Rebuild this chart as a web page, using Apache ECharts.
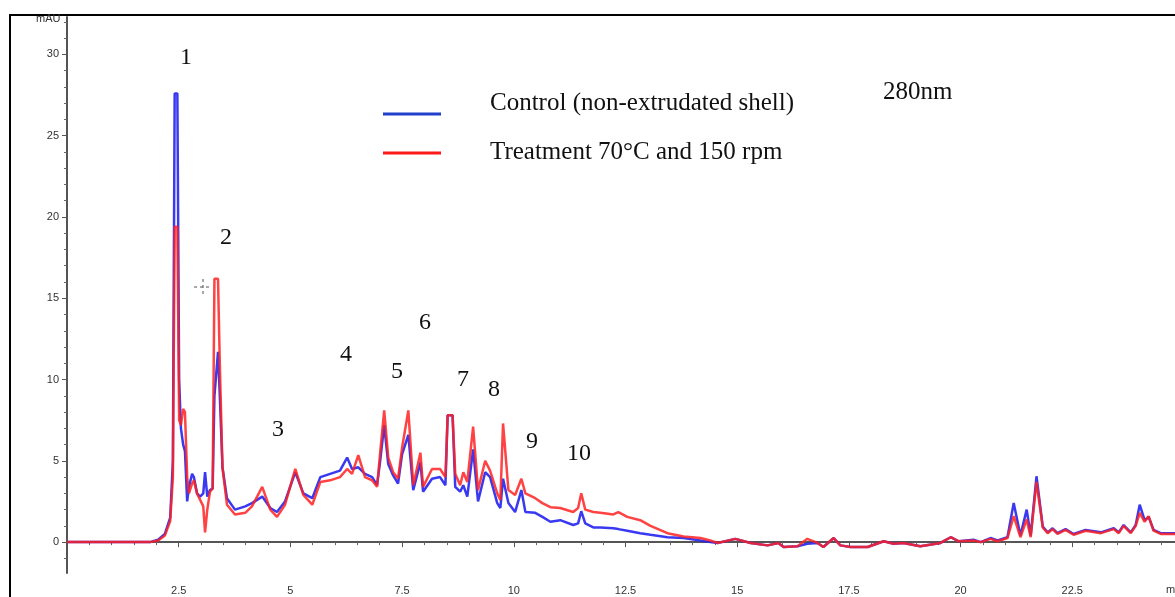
<!DOCTYPE html>
<html>
<head>
<meta charset="utf-8">
<title>Chromatogram 280nm</title>
<script src="https://cdn.jsdelivr.net/npm/echarts@6/dist/echarts.min.js"></script>
<style>
  html, body { margin: 0; padding: 0; background: #fff; }
  #chart { width: 1175px; height: 597px; }
</style>
</head>
<body>
<div id="chart"></div>
<script>
// retention time (min)
const timeMin = [
    0.00, 1.19, 1.86, 2.04, 2.19, 2.31, 2.37, 2.41, 2.47, 2.51,
    2.55, 2.60, 2.64, 2.69, 2.73, 2.80, 2.84, 2.91, 2.98, 3.05,
    3.09, 3.14, 3.20, 3.26, 3.30, 3.38, 3.42, 3.48, 3.58, 3.76,
    3.99, 4.14, 4.37, 4.55, 4.70, 4.88, 5.11, 5.29, 5.49, 5.67,
    5.89, 6.11, 6.27, 6.38, 6.52, 6.67, 6.83, 6.94, 7.01, 7.10,
    7.19, 7.30, 7.41, 7.50, 7.64, 7.75, 7.91, 7.97, 8.17, 8.35,
    8.47, 8.52, 8.63, 8.69, 8.80, 8.87, 8.96, 9.09, 9.20, 9.36,
    9.47, 9.63, 9.70, 9.76, 9.88, 10.03, 10.17, 10.26, 10.48, 10.64,
    10.82, 11.04, 11.33, 11.44, 11.51, 11.60, 11.78, 11.94, 12.23, 12.34,
    12.54, 12.83, 13.06, 13.44, 13.80, 14.18, 14.40, 14.56, 14.96, 15.30,
    15.68, 15.92, 16.04, 16.35, 16.57, 16.80, 16.93, 17.16, 17.31, 17.54,
    17.92, 18.28, 18.50, 18.72, 19.10, 19.55, 19.78, 19.96, 20.29, 20.45,
    20.67, 20.83, 21.05, 21.19, 21.34, 21.48, 21.57, 21.70, 21.84, 21.95,
    22.06, 22.17, 22.35, 22.53, 22.80, 23.14, 23.43, 23.54, 23.65, 23.81,
    23.92, 24.01, 24.12, 24.21, 24.32, 24.48, 24.81
];

// Control (non-extrudated shell), mAU
const controlMAU = [
    0, 0, 0, 0.15, 0.5, 1.5, 5, 27.6, 27.6, 10,
    7.0, 6.0, 5.6, 2.5, 3.4, 4.2, 4.0, 3.0, 2.8, 3.0,
    4.3, 2.8, 3.2, 3.3, 9, 11.7, 9, 4.6, 2.7, 2.0,
    2.2, 2.4, 2.8, 2.1, 1.85, 2.5, 4.3, 3.0, 2.7, 4.0,
    4.2, 4.4, 5.2, 4.5, 4.6, 4.2, 4.0, 3.5, 5.0, 7.2,
    4.8, 4.1, 3.6, 5.4, 6.6, 3.2, 4.9, 3.1, 3.9, 4.0,
    3.5, 7.8, 7.8, 3.4, 3.1, 3.5, 2.8, 5.7, 2.5, 4.3,
    4.0, 2.4, 2.1, 3.9, 2.4, 1.85, 3.2, 1.85, 1.8, 1.55,
    1.25, 1.35, 1.05, 1.15, 1.9, 1.15, 0.9, 0.9, 0.85, 0.8,
    0.7, 0.55, 0.45, 0.3, 0.25, 0.1, 0.0, -0.05, 0.2, -0.05,
    -0.2, -0.05, -0.3, -0.25, -0.1, -0.05, -0.3, 0.25, -0.2, -0.3,
    -0.3, 0.05, -0.1, -0.05, -0.25, -0.05, 0.3, 0.05, 0.15, 0.0,
    0.25, 0.1, 0.3, 2.4, 0.4, 2.0, 0.4, 4.05, 0.95, 0.6,
    0.85, 0.55, 0.8, 0.5, 0.75, 0.6, 0.85, 0.6, 1.05, 0.6,
    1.05, 2.3, 1.35, 1.55, 0.75, 0.55, 0.55
];

// Treatment 70°C and 150 rpm, mAU
const treatmentMAU = [
    0, 0, 0, 0.1, 0.4, 1.3, 4, 19.4, 19.4, 7.5,
    7.2, 8.2, 8.0, 4.0, 3.0, 3.6, 3.8, 3.0, 2.6, 2.2,
    0.6, 2.0, 3.1, 3.3, 16.2, 16.2, 11, 4.6, 2.3, 1.7,
    1.8, 2.2, 3.4, 2.0, 1.55, 2.3, 4.5, 2.9, 2.3, 3.7,
    3.8, 4.0, 4.5, 4.2, 5.35, 4.0, 3.8, 3.4, 5.5, 8.1,
    5.2, 4.3, 3.9, 5.8, 8.1, 3.5, 5.5, 3.4, 4.5, 4.5,
    4.0, 7.8, 7.8, 4.2, 3.5, 4.3, 3.7, 7.1, 3.2, 5.0,
    4.4, 3.0, 2.6, 7.3, 3.2, 2.9, 3.9, 3.0, 2.7, 2.4,
    2.15, 2.1, 1.85, 2.1, 3.0, 2.0, 1.85, 1.8, 1.7, 1.85,
    1.55, 1.35, 1.0, 0.55, 0.35, 0.25, 0.1, -0.05, 0.2, -0.05,
    -0.2, -0.05, -0.3, -0.25, 0.2, -0.05, -0.3, 0.25, -0.2, -0.3,
    -0.3, 0.05, -0.1, -0.05, -0.25, -0.05, 0.3, 0.05, 0.1, 0.0,
    0.2, 0.05, 0.25, 1.6, 0.3, 1.4, 0.3, 3.7, 0.9, 0.55,
    0.8, 0.5, 0.75, 0.45, 0.7, 0.55, 0.8, 0.55, 1.0, 0.55,
    1.0, 1.8, 1.25, 1.6, 0.7, 0.5, 0.5
];

const xTickValues = [2.5, 5, 7.5, 10, 12.5, 15, 17.5, 20, 22.5];
const xMinorValues = [0.5, 1, 1.5, 2, 3, 3.5, 4, 4.5, 5.5, 6, 6.5, 7, 8, 8.5, 9, 9.5,
    10.5, 11, 11.5, 12, 13, 13.5, 14, 14.5, 15.5, 16, 16.5, 17, 18, 18.5, 19, 19.5,
    20.5, 21, 21.5, 22, 23, 23.5, 24, 24.5];
const yTickValues = [0, 5, 10, 15, 20, 25, 30];
const yMinorValues = [-1, 1, 2, 3, 4, 6, 7, 8, 9, 11, 12, 13, 14, 16, 17, 18, 19,
    21, 22, 23, 24, 26, 27, 28, 29, 31, 32];

const seriesNames = ['Control (non-extrudated shell)', 'Treatment 70°C and 150 rpm'];
const peakLabels = ['1', '2', '3', '4', '5', '6', '7', '8', '9', '10'];

const chart = echarts.init(document.getElementById('chart'));

const tickFont = {
    fontFamily: '"Liberation Sans Narrow", "Liberation Sans", Arial, sans-serif',
    fontSize: 11,
    color: '#333'
};
const serif = '"Liberation Serif", "Times New Roman", serif';

// where the peak numbers sit on the page
const peakLabelPos = [
    [186, 58], [226, 238], [278, 430], [346, 355], [397, 372],
    [425, 323], [463, 380], [494, 390], [532, 442], [579, 454]
];

const graphics = [
    // outer frame
    { type: 'rect', shape: { x: 10, y: 15, width: 1200, height: 620 },
      style: { fill: null, stroke: '#000', lineWidth: 2 }, z: 0 },
    { type: 'text', left: 36, top: 13,
      style: { text: 'mAU', font: '11px "Liberation Sans Narrow", "Liberation Sans", sans-serif', fill: '#333' } },
    { type: 'text', left: 1166, top: 584,
      style: { text: 'min', font: '11px "Liberation Sans Narrow", "Liberation Sans", sans-serif', fill: '#333' } },
    // legend
    { type: 'line', shape: { x1: 383, y1: 114, x2: 441, y2: 114 },
      style: { stroke: '#1f3fcc', lineWidth: 3 } },
    { type: 'line', shape: { x1: 383, y1: 153, x2: 441, y2: 153 },
      style: { stroke: '#ff1a1a', lineWidth: 3 } },
    { type: 'text', x: 490, y: 103,
      style: { text: seriesNames[0], font: '25px ' + serif, fill: '#111', verticalAlign: 'middle' } },
    { type: 'text', x: 490, y: 152,
      style: { text: seriesNames[1], font: '25px ' + serif, fill: '#111', verticalAlign: 'middle' } },
    { type: 'text', x: 883, y: 92,
      style: { text: '280nm', font: '25px ' + serif, fill: '#111', verticalAlign: 'middle' } },
    // cursor cross
    { type: 'line', shape: { x1: 194, y1: 287, x2: 212, y2: 287 },
      style: { stroke: '#555', lineWidth: 1, lineDash: [3, 3] } },
    { type: 'line', shape: { x1: 203, y1: 279, x2: 203, y2: 296 },
      style: { stroke: '#555', lineWidth: 1, lineDash: [3, 3] } }
];

peakLabels.forEach((label, i) => {
    graphics.push({
        type: 'text',
        x: peakLabelPos[i][0],
        y: peakLabelPos[i][1],
        style: {
            text: label,
            font: '24px ' + serif,
            fill: '#111',
            align: 'center',
            verticalAlign: 'middle'
        }
    });
});

const option = {
    backgroundColor: '#fff',
    animation: false,
    grid: { left: 67, right: 0, top: 17, bottom: 24 },
    xAxis: [
        {
            type: 'value',
            min: 0,
            max: 24.8,
            axisLine: { show: true, lineStyle: { color: '#555', width: 2 } },
            axisTick: { show: true, customValues: xTickValues, length: 5, lineStyle: { color: '#555' } },
            axisLabel: { customValues: xTickValues, margin: 12, ...tickFont },
            splitLine: { show: false }
        },
        {
            type: 'value',
            position: 'bottom',
            min: 0,
            max: 24.8,
            axisLine: { show: false },
            axisTick: { show: true, customValues: xMinorValues, length: 3, lineStyle: { color: '#666' } },
            axisLabel: { show: false },
            splitLine: { show: false }
        }
    ],
    yAxis: [
        {
            type: 'value',
            min: -1.9,
            max: 32.3,
            axisLine: { show: true, lineStyle: { color: '#555', width: 2 } },
            axisTick: { show: true, customValues: yTickValues, length: 5, lineStyle: { color: '#555' } },
            axisLabel: { customValues: yTickValues, margin: 8, ...tickFont },
            splitLine: { show: false }
        },
        {
            type: 'value',
            position: 'left',
            min: -1.9,
            max: 32.3,
            axisLine: { show: false },
            axisTick: { show: true, customValues: yMinorValues, length: 3, lineStyle: { color: '#666' } },
            axisLabel: { show: false },
            splitLine: { show: false }
        }
    ],
    graphic: graphics,
    series: [
        {
            name: seriesNames[0],
            type: 'line',
            showSymbol: false,
            data: timeMin.map((t, i) => [t, controlMAU[i]]),
            lineStyle: { color: '#2323f0', width: 2.5, opacity: 0.9 },
            z: 3
        },
        {
            name: seriesNames[1],
            type: 'line',
            showSymbol: false,
            data: timeMin.map((t, i) => [t, treatmentMAU[i]]),
            lineStyle: { color: '#ff2222', width: 2.5, opacity: 0.85 },
            z: 4
        }
    ]
};

chart.setOption(option);
</script>
</body>
</html>
